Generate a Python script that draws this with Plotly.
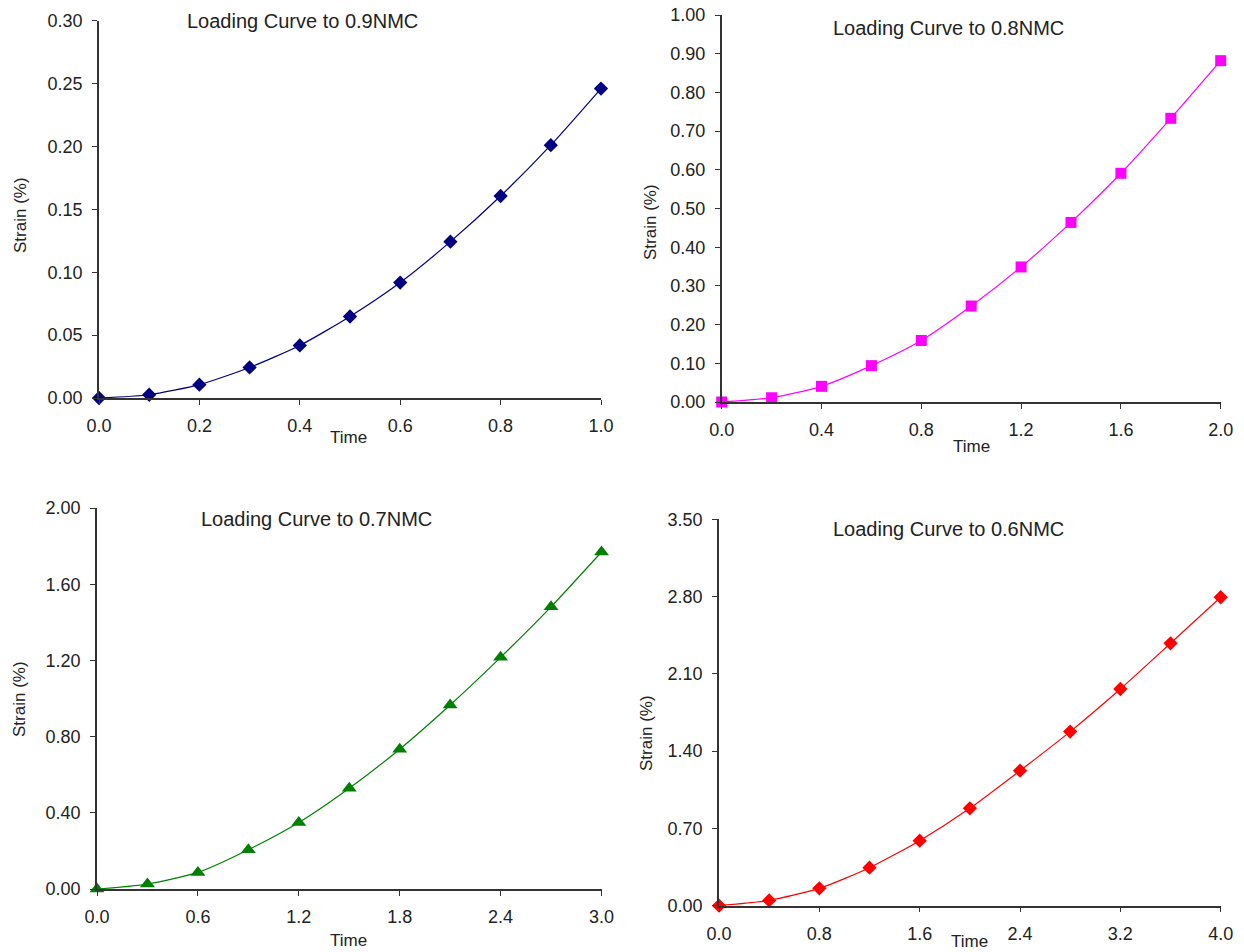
import plotly.graph_objects as go

W, H = 1244, 952

# ---------------- data ----------------
time_09 = [0.0, 0.1, 0.2, 0.3, 0.4, 0.5, 0.6, 0.7, 0.8, 0.9, 1.0]
strain_09 = [0.0, 0.0026, 0.0106, 0.0243, 0.0418, 0.0648, 0.0918, 0.1243, 0.1606, 0.2010, 0.2460]

time_08 = [0.0, 0.2, 0.4, 0.6, 0.8, 1.0, 1.2, 1.4, 1.6, 1.8, 2.0]
strain_08 = [0.0, 0.011, 0.0405, 0.094, 0.159, 0.248, 0.349, 0.464, 0.591, 0.733, 0.882]

time_07 = [0.0, 0.3, 0.6, 0.9, 1.2, 1.5, 1.8, 2.1, 2.4, 2.7, 3.0]
strain_07 = [0.0, 0.026, 0.087, 0.206, 0.349, 0.529, 0.734, 0.966, 1.216, 1.481, 1.769]

time_06 = [0.0, 0.4, 0.8, 1.2, 1.6, 2.0, 2.4, 2.8, 3.2, 3.6, 4.0]
strain_06 = [0.0, 0.048, 0.157, 0.344, 0.589, 0.882, 1.223, 1.577, 1.963, 2.377, 2.794]

titles = ["Loading Curve to 0.9NMC", "Loading Curve to 0.8NMC",
          "Loading Curve to 0.7NMC", "Loading Curve to 0.6NMC"]
x_label = "Time"
y_label = "Strain (%)"

# axis settings: (xmax, xdtick, ymax, ydtick)
axis_specs = [(1.0, 0.2, 0.30, 0.05), (2.0, 0.4, 1.00, 0.10),
              (3.0, 0.6, 2.00, 0.40), (4.0, 0.8, 3.50, 0.70)]

colors = ["#000080", "#FF00FF", "#008000", "#FF0000"]
symbols = ["diamond", "square", "triangle-up", "diamond"]
msizes = [11, 11, 13, 11]

# ---------------- layout geometry (pixels) ----------------
# (x0, x1, ytop, ybottom)
boxes = [(99, 601, 20.7, 398), (721.7, 1220.7, 15, 402),
         (97, 601.5, 508, 889), (719, 1220.7, 519.3, 905.7)]
title_pos = [(302, 21), (948, 28), (316, 519), (948, 529)]
ylab_pos = [(21, 215), (650, 222), (19, 699), (646, 733)]
xlab_pos = [(349, 438), (971, 446), (349, 940), (969, 941)]

FONT = "Liberation Sans, Arial, sans-serif"

series = [(time_09, strain_09), (time_08, strain_08),
          (time_07, strain_07), (time_06, strain_06)]

fig = go.Figure()
layout_axes = {}
annotations = []

def px_x(v):
    return v / W

def px_y(v):
    return 1 - v / H

for i, ((xs, ys), (xmax, xdt, ymax, ydt)) in enumerate(zip(series, axis_specs)):
    n = i + 1
    xa = "x" if n == 1 else f"x{n}"
    ya = "y" if n == 1 else f"y{n}"
    fig.add_trace(go.Scatter(
        x=xs, y=ys, xaxis=xa, yaxis=ya, mode="lines+markers",
        line=dict(color=colors[i], width=1.2, shape="spline", smoothing=0.6),
        marker=dict(symbol=symbols[i], size=msizes[i], color=colors[i]),
        cliponaxis=False, showlegend=False,
    ))
    x0, x1, yt, yb = boxes[i]
    common = dict(showgrid=False, zeroline=False, showline=True, automargin=False,
                  linecolor="#333333", linewidth=1.5, ticks="outside",
                  ticklen=5, tickcolor="#333333", tickwidth=1.2,
                  tickfont=dict(family=FONT, size=18, color="#222222"))
    layout_axes["xaxis" if n == 1 else f"xaxis{n}"] = dict(
        domain=[px_x(x0), px_x(x1)], range=[0, xmax], dtick=xdt, tick0=0,
        tickformat=".1f", anchor=ya, ticklabelstandoff=6, **common)
    layout_axes["yaxis" if n == 1 else f"yaxis{n}"] = dict(
        domain=[px_y(yb), px_y(yt)], range=[0, ymax], dtick=ydt, tick0=0,
        tickformat=".2f", anchor=xa, ticklabelstandoff=6, **common)

    tx, ty = title_pos[i]
    annotations.append(dict(text=titles[i], x=px_x(tx), y=px_y(ty), xref="paper", yref="paper",
                            showarrow=False, xanchor="center", yanchor="middle",
                            font=dict(family=FONT, size=20, color="#222222")))
    lx, ly = ylab_pos[i]
    annotations.append(dict(text=y_label, x=px_x(lx), y=px_y(ly), xref="paper", yref="paper",
                            showarrow=False, xanchor="center", yanchor="middle", textangle=-90,
                            font=dict(family=FONT, size=17, color="#222222")))
    bx, by = xlab_pos[i]
    annotations.append(dict(text=x_label, x=px_x(bx), y=px_y(by), xref="paper", yref="paper",
                            showarrow=False, xanchor="center", yanchor="middle",
                            font=dict(family=FONT, size=17, color="#222222")))

fig.update_layout(
    template="none",
    width=W, height=H, margin=dict(l=0, r=0, t=0, b=0, pad=0), autosize=False,
    paper_bgcolor="white", plot_bgcolor="white",
    annotations=annotations, **layout_axes,
)

fig.write_html(
    "out.html",
    config={"displayModeBar": False},
    post_script="document.body.style.margin='0px';document.body.style.overflow='hidden';",
)
